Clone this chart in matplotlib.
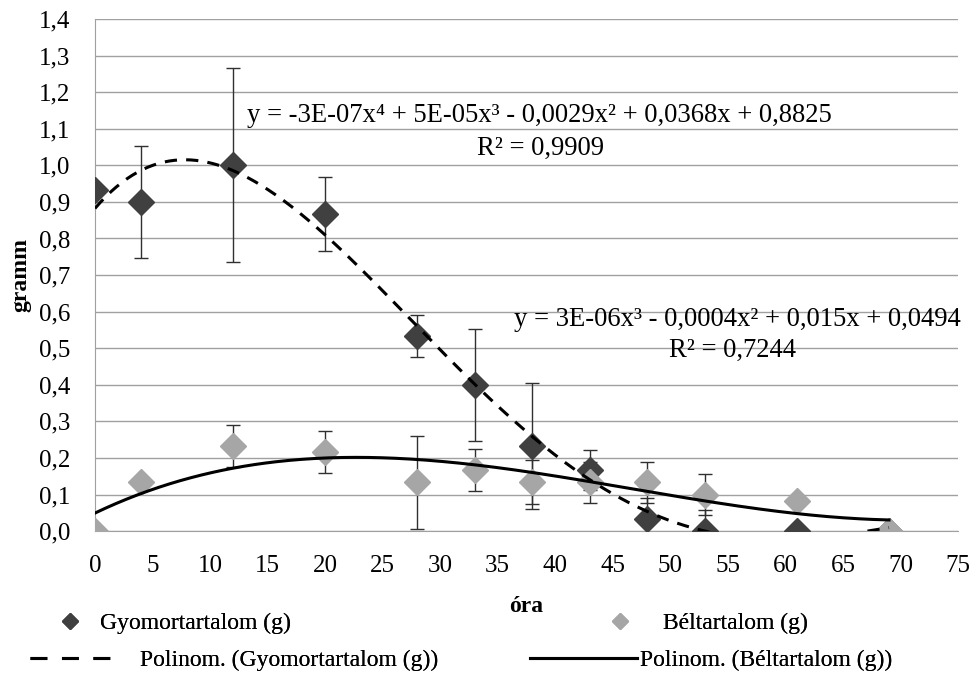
import numpy as np
import matplotlib
matplotlib.use("Agg")
import matplotlib.pyplot as plt
from matplotlib.lines import Line2D

plt.rcParams['font.family'] = ['Liberation Serif', 'DejaVu Serif']

# === adatok ===
ora = [0, 4, 12, 20, 28, 33, 38, 43, 48, 53, 61, 69]
gyomor = [0.933, 0.9, 1.0, 0.867, 0.533, 0.4, 0.233, 0.167, 0.033, 0.0, 0.0, 0.0]
gyomor_err = [0, 0.152, 0.265, 0.1, 0.058, 0.153, 0.172, 0.055, 0.057, 0.057, 0, 0]
bel = [0.0, 0.133, 0.233, 0.217, 0.133, 0.167, 0.133, 0.133, 0.133, 0.1, 0.083, 0.0]
bel_err = [0, 0, 0.057, 0.057, 0.127, 0.057, 0.06, 0.057, 0.057, 0.055, 0, 0]

eq_gyomor = "y = -3E-07x\u2074 + 5E-05x\u00b3 - 0,0029x\u00b2 + 0,0368x + 0,8825"
r2_gyomor = "R\u00b2 = 0,9909"
eq_bel = "y = 3E-06x\u00b3 - 0,0004x\u00b2 + 0,015x + 0,0494"
r2_bel = "R\u00b2 = 0,7244"

sotet = "#404040"
vilagos = "#A6A6A6"
fs_tick = 18
fs_eq = 19.2
fs_leg = 17

fig = plt.figure(figsize=(9.76, 6.8), dpi=100)
ax = fig.add_axes([0.0973, 0.219, 0.8843, 0.753])

ax.errorbar(ora, gyomor, yerr=gyomor_err, fmt="none", ecolor="#303030",
            elinewidth=1, capsize=5, capthick=1, zorder=2)
ax.errorbar(ora, bel, yerr=bel_err, fmt="none", ecolor="#303030",
            elinewidth=1, capsize=5, capthick=1, zorder=2)
m_gy, = ax.plot(ora, gyomor, "D", color=sotet, ms=13, ls="none", zorder=3)
m_b, = ax.plot(ora, bel, "D", color=vilagos, ms=13, ls="none", zorder=4)

# polinom trendvonalak
xs = np.linspace(min(ora), max(ora), 300)
p_gy = np.polyfit(ora, gyomor, 4)
p_b = np.polyfit(ora, bel, 3)
ax.plot(xs, np.polyval(p_gy, xs), color="black", lw=2.2, ls=(0, (4, 3)), zorder=5)
t_b, = ax.plot(xs, np.polyval(p_b, xs), color="black", lw=2.2, zorder=5)
t_gy = Line2D([], [], color="black", lw=2.2, ls=(0, (5.5, 4.8)))

ax.text(38.6, 1.137, eq_gyomor, ha="center", va="center", fontsize=fs_eq)
ax.text(38.7, 1.047, r2_gyomor, ha="center", va="center", fontsize=fs_eq)
ax.text(75.2, 0.578, eq_bel, ha="right", va="center", fontsize=fs_eq)
ax.text(55.4, 0.494, r2_bel, ha="center", va="center", fontsize=fs_eq)

ax.set_xlim(0, 75)
ax.set_ylim(0, 1.4)
ax.set_xticks(range(0, 76, 5))
ax.set_yticks(np.arange(0, 1.41, 0.1))
ax.set_yticklabels([f"{v:.1f}".replace(".", ",") for v in np.arange(0, 1.41, 0.1)])
ax.tick_params(axis="x", length=0, labelsize=fs_tick, pad=17)
ax.tick_params(axis="y", length=0, labelsize=fs_tick, pad=18)
ax.grid(axis="y", color="#A0A0A0", lw=1)
ax.set_axisbelow(True)
for s in ["top", "right"]:
    ax.spines[s].set_visible(False)
ax.spines["left"].set_color("#A0A0A0")
ax.spines["bottom"].set_color("#A0A0A0")

ax.set_ylabel("gramm", fontsize=fs_leg, fontweight="bold", labelpad=5)
ax.set_xlabel("óra", fontsize=fs_leg, fontweight="bold", labelpad=14)

# jelmagyarázat: négy külön bejegyzés, mint az Excel-ben
em = fs_leg * 100 / 72
W, H = 976, 680
entries = [
    (m_gy, "Gyomortartalom (g)", 50, 623, 40, 10),
    (t_gy, "Polinom. (Gyomortartalom (g))", 30, 660, 80, 30),
    (m_b, "Béltartalom (g)", 600, 623, 40, 23),
    (t_b, "Polinom. (Béltartalom (g))", 530, 660, 107, 3),
]
for handle, label, x0, y0, hl, pad in entries:
    leg = fig.legend([handle], [label], loc="center left",
                     bbox_to_anchor=(x0 / W, 1 - y0 / H), frameon=False,
                     fontsize=fs_leg, handlelength=hl / em,
                     handletextpad=pad / em, markerscale=0.6,
                     borderpad=0, borderaxespad=0)
    fig.add_artist(leg)

plt.savefig("out.png", dpi=100)
